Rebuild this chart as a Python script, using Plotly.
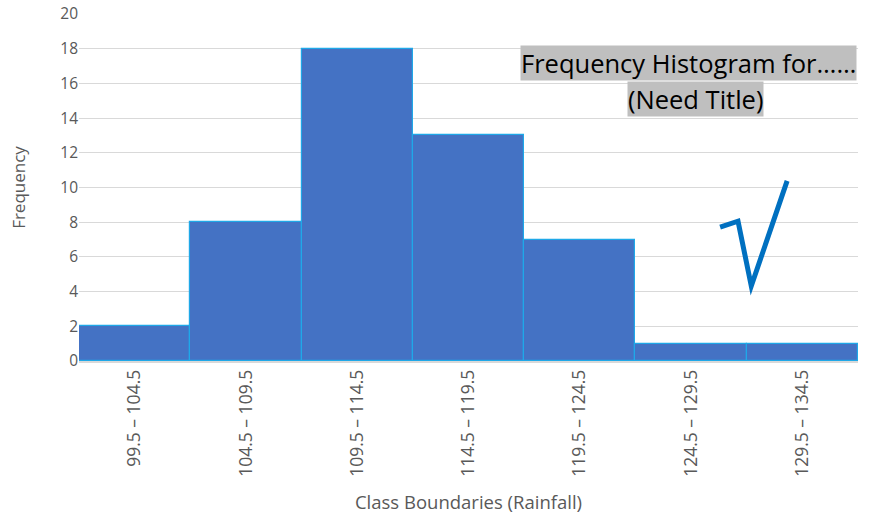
import plotly.graph_objects as go

# Class intervals (rainfall) and their frequencies
class_labels = ["99.5 – 104.5", "104.5 – 109.5", "109.5 – 114.5", "114.5 – 119.5",
                "119.5 – 124.5", "124.5 – 129.5", "129.5 – 134.5"]
frequencies = [2, 8, 18, 13, 7, 1, 1]
y_ticks = list(range(0, 21, 2))

FONT = "Open Sans"
GRAY = "#595959"
GRID = "#D9D9D9"

fig = go.Figure(
    go.Bar(
        x=class_labels,
        y=frequencies,
        marker=dict(color="#4472C4", line=dict(color="#1FA8E8", width=1.2)),
        hoverinfo="x+y",
    )
)

fig.update_layout(
    width=878,
    height=514,
    margin=dict(l=79, r=20, t=14, b=153),
    paper_bgcolor="white",
    plot_bgcolor="white",
    bargap=0,
    showlegend=False,
    font=dict(family=FONT, color=GRAY, size=15),
    xaxis=dict(
        type="category",
        tickangle=-90,
        automargin=False,
        showline=True,
        linecolor=GRID,
        linewidth=1.5,
        ticks="",
        tickfont=dict(size=17.5, color=GRAY),
        title=dict(text="Class Boundaries (Rainfall)", font=dict(size=18.5, color=GRAY), standoff=24),
    ),
    yaxis=dict(
        range=[0, 20],
        tickvals=y_ticks,
        automargin=False,
        showgrid=True,
        gridcolor=GRID,
        gridwidth=1,
        zeroline=False,
        ticks="",
        tickfont=dict(size=15.5, color=GRAY),
        title=dict(text="Frequency", font=dict(size=17, color=GRAY), standoff=30),
    ),
)

# Two-line boxed title placed inside the plot area
fig.add_annotation(
    xref="paper", yref="paper", x=0.783, y=0.859, xanchor="center", yanchor="middle",
    text="Frequency Histogram for……", showarrow=False,
    font=dict(family=FONT, size=25.5, color="black"), bgcolor="#BFBFBF", borderpad=0,
)
fig.add_annotation(
    xref="paper", yref="paper", x=0.791, y=0.755, xanchor="center", yanchor="middle",
    text="(Need Title)", showarrow=False,
    font=dict(family=FONT, size=25.5, color="black"), bgcolor="#BFBFBF", borderpad=0,
)

# Hand-drawn check mark
fig.add_shape(
    type="path", xref="paper", yref="paper",
    path="M 0.823 0.386 L 0.846 0.403 L 0.863 0.216 L 0.909 0.519",
    line=dict(color="#0070C0", width=5),
)

fig.write_html("out.html")
